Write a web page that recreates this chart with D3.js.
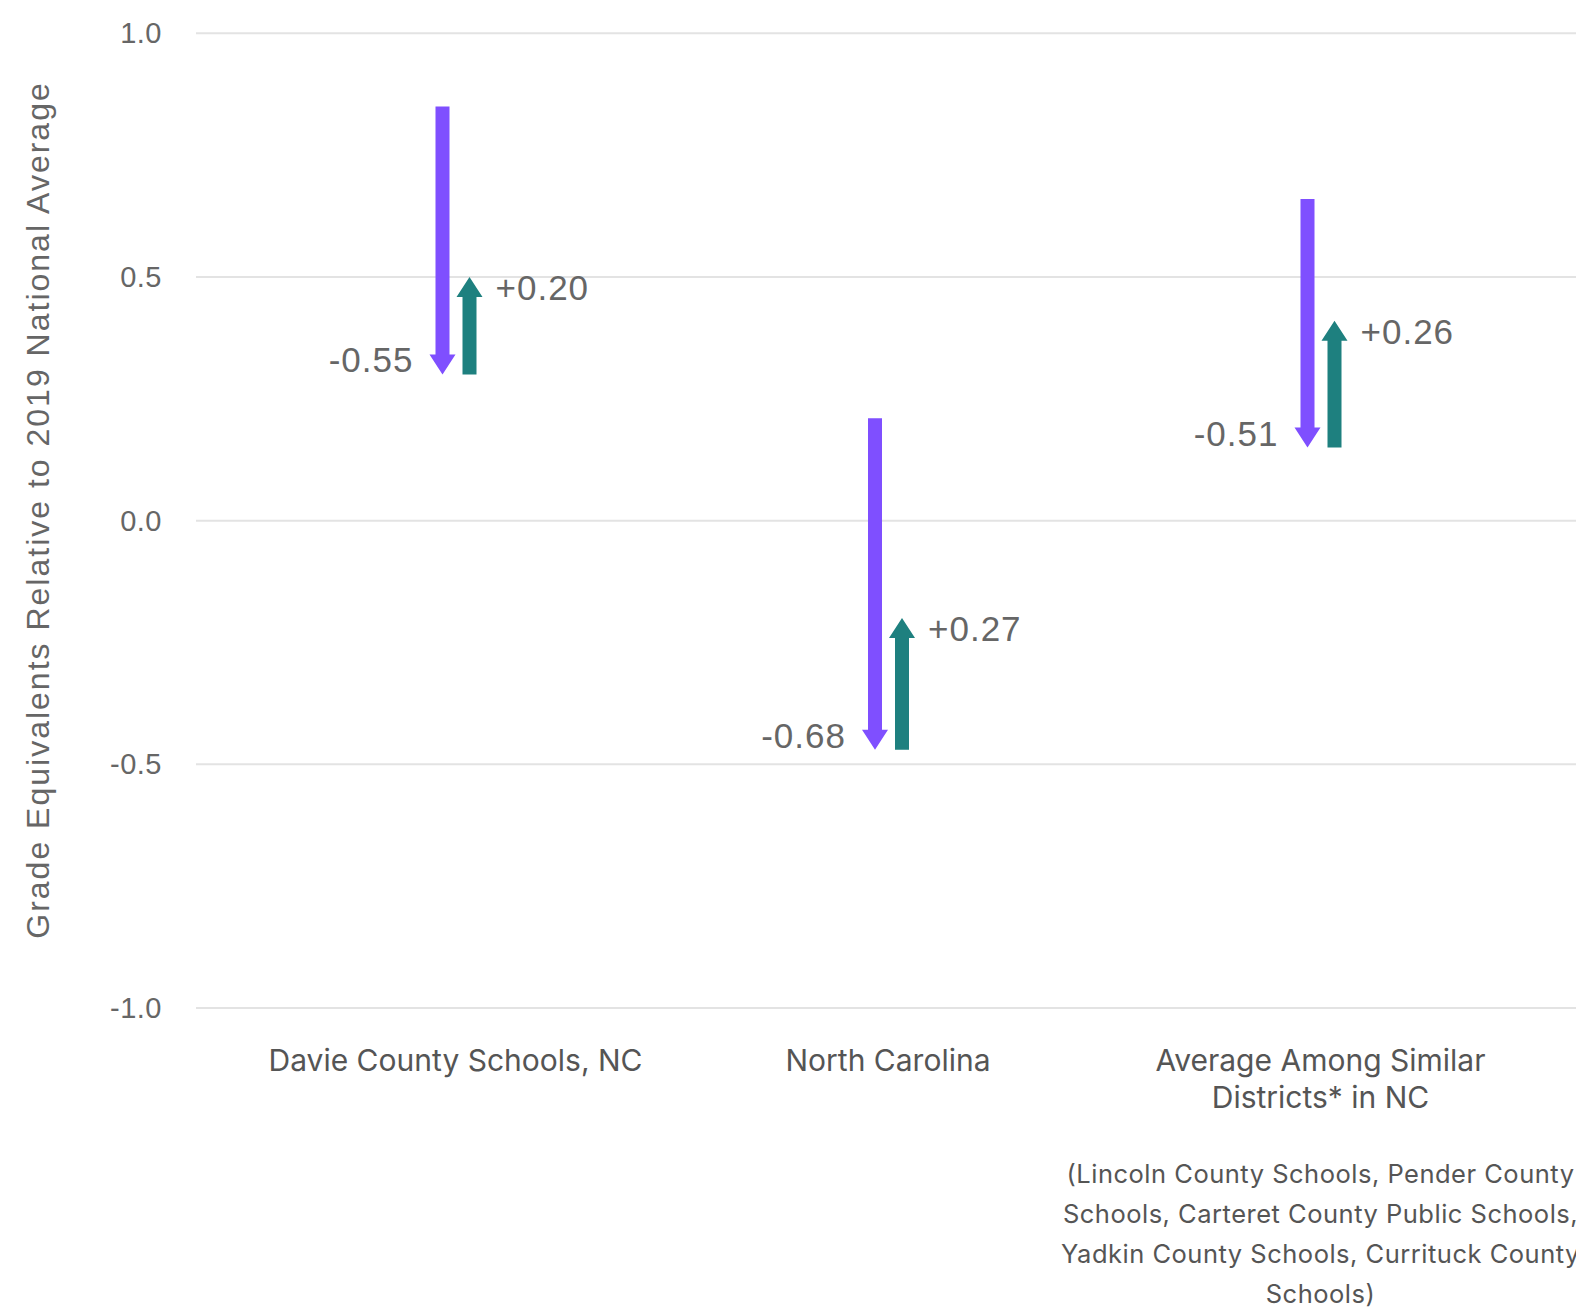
<!DOCTYPE html>
<html>
<head>
<meta charset="utf-8">
<script src="https://cdn.jsdelivr.net/npm/d3@7"></script>
<style>
  body { margin: 0; overflow: hidden; background: #fff; }
</style>
</head>
<body>
<svg id="chart"></svg>
<script>
// data
const categories = ["Davie County Schools, NC", "North Carolina", "Average Among Similar Districts* in NC"]
const categoryLines = [["Davie County Schools, NC"], ["North Carolina"], ["Average Among Similar", "Districts* in NC"]]
const startValues = [0.85, 0.21, 0.66]
const drops = [-0.55, -0.68, -0.51]
const recoveries = [0.20, 0.27, 0.26]
const yTicks = [-1.0, -0.5, 0.0, 0.5, 1.0]
const footnote = ["(Lincoln County Schools, Pender County", "Schools, Carteret County Public Schools,", "Yadkin County Schools, Currituck County", "Schools)"]

const purple = "#7f4fff"
const teal = "#1e807f"

// plain hyphen for negatives, like the original
const locale = d3.formatLocale({decimal: ".", thousands: ",", grouping: [3], currency: ["$", ""], minus: "-"})
const fmt1 = locale.format(".1f"), fmt2 = locale.format(".2f")

const width = 1576, height = 1312
const svg = d3.select("#chart").attr("width", width).attr("height", height)

const y = d3.scaleLinear().domain([-1, 1]).range([1008, 33.3])
const x = d3.scalePoint().domain(categories).range([196, 1580]).padding(0.6)

// gridlines + tick labels
svg.append("g").selectAll("line")
  .data(yTicks).enter().append("line")
    .attr("x1", 196).attr("x2", width + 20)
    .attr("y1", d => y(d)).attr("y2", d => y(d))
    .attr("stroke", "#e3e3e3").attr("stroke-width", 2)

svg.append("g").selectAll("text")
  .data(yTicks).enter().append("text")
    .attr("x", 162)
    .attr("y", d => y(d) + 10)
    .attr("text-anchor", "end")
    .style("font-family", "'Liberation Sans', Arial, sans-serif")
    .style("font-size", "29px")
    .style("letter-spacing", "0.5px")
    .attr("fill", "#666")
    .text(d => fmt1(d))

// y axis title
svg.append("text")
  .attr("transform", "translate(49,510) rotate(-90)")
  .attr("text-anchor", "middle")
  .style("font-family", "'Liberation Sans', Arial, sans-serif")
  .style("font-size", "32px")
  .style("letter-spacing", "2px")
  .attr("fill", "#666")
  .text("Grade Equivalents Relative to 2019 National Average")

const shaft = 14, head = 26, headLen = 20

// arrow pointing from y0 to y1 (tip at y1)
function arrowPath(cx, y0, y1) {
  const dir = y1 > y0 ? 1 : -1
  const yb = y1 - dir * headLen
  return ["M", cx - shaft / 2, y0, "L", cx + shaft / 2, y0, "L", cx + shaft / 2, yb,
    "L", cx + head / 2, yb, "L", cx, y1, "L", cx - head / 2, yb, "L", cx - shaft / 2, yb, "Z"].join(" ")
}

const rows = categories.map((c, i) => ({
  cat: c, start: startValues[i], drop: drops[i], rec: recoveries[i],
  end: startValues[i] + drops[i], top: startValues[i] + drops[i] + recoveries[i]
}))

const g = svg.append("g")

g.selectAll(".down").data(rows).enter().append("path")
  .attr("d", d => arrowPath(x(d.cat) - 13, y(d.start), y(d.end)))
  .attr("fill", purple)

g.selectAll(".up").data(rows).enter().append("path")
  .attr("d", d => arrowPath(x(d.cat) + 14, y(d.end), y(d.top)))
  .attr("fill", teal)

g.selectAll(".dlab").data(rows).enter().append("text")
  .attr("x", d => x(d.cat) - 42)
  .attr("y", d => y(d.end) - 2)
  .attr("text-anchor", "end")
  .style("font-family", "'Liberation Sans', Arial, sans-serif")
  .style("font-size", "35px")
  .style("letter-spacing", "1px")
  .attr("fill", "#666")
  .text(d => fmt2(d.drop))

g.selectAll(".ulab").data(rows).enter().append("text")
  .attr("x", d => x(d.cat) + 40)
  .attr("y", d => y(d.top) + 23)
  .style("font-family", "'Liberation Sans', Arial, sans-serif")
  .style("font-size", "35px")
  .style("letter-spacing", "1px")
  .attr("fill", "#666")
  .text(d => "+" + fmt2(d.rec))

// category labels
categories.forEach((c, i) => {
  const t = svg.append("text")
    .attr("text-anchor", "middle")
    .style("font-family", "Inter, sans-serif")
    .style("font-size", "30px")
    .attr("fill", "#555")
  categoryLines[i].forEach((line, j) => {
    t.append("tspan").attr("x", x(c)).attr("y", 1071 + j * 37).text(line)
  })
})

// footnote under the third category
const fn = svg.append("text")
  .attr("text-anchor", "middle")
  .style("font-family", "Inter, sans-serif")
  .style("font-size", "25.5px")
  .style("letter-spacing", "0.5px")
  .attr("fill", "#555")
footnote.forEach((line, j) => {
  fn.append("tspan").attr("x", x(categories[2])).attr("y", 1183 + j * 40).text(line)
})
</script>
</body>
</html>
